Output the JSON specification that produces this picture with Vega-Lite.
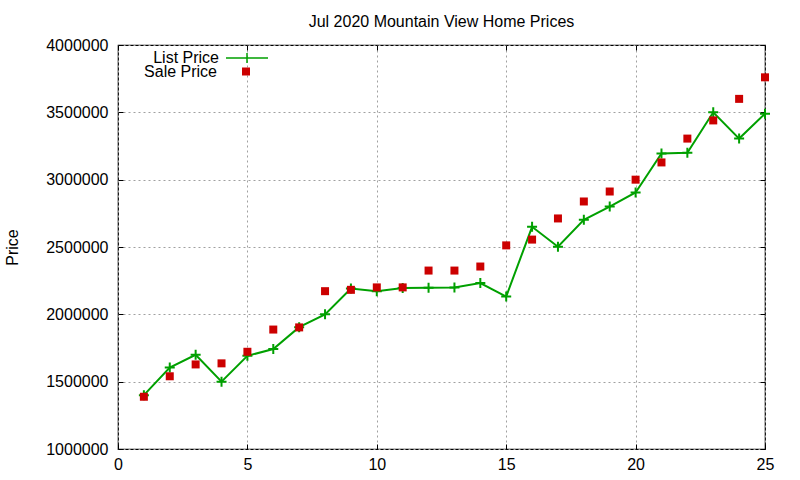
{
  "$schema": "https://vega.github.io/schema/vega-lite/v6.json",
  "autosize": "none",
  "width": 647,
  "height": 404,
  "padding": {"left": 118, "top": 45, "right": 35, "bottom": 31},
  "background": "white",
  "title": {
    "text": "Jul 2020 Mountain View Home Prices",
    "font": "Liberation Sans",
    "fontSize": 16,
    "fontWeight": "normal",
    "color": "#000",
    "anchor": "middle",
    "offset": 6
  },
  "data": {
    "values": [
      {"n": 1, "list": 1400000, "sale": 1388000},
      {"n": 2, "list": 1605000, "sale": 1540000},
      {"n": 3, "list": 1700000, "sale": 1628000},
      {"n": 4, "list": 1500000, "sale": 1636000},
      {"n": 5, "list": 1692000, "sale": 1722000},
      {"n": 6, "list": 1742000, "sale": 1887000},
      {"n": 7, "list": 1905000, "sale": 1903000},
      {"n": 8, "list": 2000000, "sale": 2172000},
      {"n": 9, "list": 2192000, "sale": 2182000},
      {"n": 10, "list": 2172000, "sale": 2200000},
      {"n": 11, "list": 2195000, "sale": 2200000},
      {"n": 12, "list": 2197000, "sale": 2325000},
      {"n": 13, "list": 2200000, "sale": 2325000},
      {"n": 14, "list": 2232000, "sale": 2355000},
      {"n": 15, "list": 2132000, "sale": 2512000},
      {"n": 16, "list": 2650000, "sale": 2555000},
      {"n": 17, "list": 2502000, "sale": 2712000},
      {"n": 18, "list": 2702000, "sale": 2838000},
      {"n": 19, "list": 2800000, "sale": 2912000},
      {"n": 20, "list": 2905000, "sale": 3000000},
      {"n": 21, "list": 3195000, "sale": 3128000},
      {"n": 22, "list": 3200000, "sale": 3305000},
      {"n": 23, "list": 3500000, "sale": 3440000},
      {"n": 24, "list": 3305000, "sale": 3600000},
      {"n": 25, "list": 3490000, "sale": 3760000}
    ]
  },
  "layer": [
    {
      "mark": {
        "type": "line",
        "strokeWidth": 2,
        "point": {
          "shape": "M-1,0H1M0,-1V1",
          "filled": false,
          "size": 100,
          "strokeWidth": 2,
          "opacity": 1
        }
      },
      "encoding": {
        "x": {
          "field": "n",
          "type": "quantitative",
          "scale": {"domain": [0, 25], "nice": false},
          "axis": {"values": [0, 5, 10, 15, 20, 25], "title": null, "labelPadding": 12}
        },
        "y": {
          "field": "list",
          "type": "quantitative",
          "scale": {"domain": [1000000, 4000000], "nice": false, "zero": false},
          "axis": {
            "values": [1000000, 1500000, 2000000, 2500000, 3000000, 3500000, 4000000],
            "format": "d",
            "title": "Price",
            "titlePadding": 25,
            "labelPadding": 15
          }
        },
        "color": {
          "datum": "List Price",
          "scale": {"domain": ["List Price"], "range": ["#00a000"]},
          "legend": {
            "title": null,
            "orient": "none",
            "legendX": 27,
            "legendY": -9,
            "padding": 0,
            "symbolType": "M-1,0H1M0,-0.24V0.24",
            "symbolSize": 1764,
            "symbolStrokeWidth": 1.5,
            "symbolOffset": 80,
            "labelAlign": "right",
            "labelOffset": -50,
            "labelFont": "Liberation Sans",
            "labelFontSize": 16,
            "labelColor": "#000",
            "labelLimit": 300
          }
        }
      }
    },
    {
      "mark": {"type": "point", "shape": "square", "filled": true, "size": 64, "opacity": 1},
      "encoding": {
        "x": {
          "field": "n",
          "type": "quantitative",
          "axis": {"orient": "top", "values": [0, 5, 10, 15, 20, 25], "labels": false, "grid": false, "title": null}
        },
        "y": {
          "field": "sale",
          "type": "quantitative",
          "axis": {
            "orient": "right",
            "values": [1000000, 1500000, 2000000, 2500000, 3000000, 3500000, 4000000],
            "labels": false,
            "grid": false,
            "title": null
          }
        },
        "color": {
          "datum": "Sale Price",
          "scale": {"domain": ["Sale Price"], "range": ["#cc0000"]},
          "legend": {
            "title": null,
            "orient": "none",
            "legendX": 44,
            "legendY": 18.5,
            "padding": 0,
            "symbolType": "square",
            "symbolSize": 64,
            "symbolOffset": 76,
            "symbolStrokeWidth": 0,
            "symbolOpacity": 1,
            "labelAlign": "right",
            "labelOffset": -37,
            "labelFont": "Liberation Sans",
            "labelFontSize": 16,
            "labelColor": "#000",
            "labelLimit": 300
          }
        }
      }
    }
  ],
  "resolve": {
    "scale": {"color": "independent"},
    "axis": {"x": "independent", "y": "independent"}
  },
  "config": {
    "view": {"stroke": "#000", "strokeWidth": 1.2},
    "axis": {
      "domain": false,
      "grid": true,
      "gridColor": "#a0a0a0",
      "gridDash": [2, 3],
      "gridWidth": 1,
      "gridOpacity": 1,
      "ticks": true,
      "tickSize": -5,
      "tickColor": "#000",
      "tickWidth": 1,
      "labelFlush": false,
      "labelFont": "Liberation Sans",
      "labelFontSize": 16,
      "labelColor": "#000",
      "titleFont": "Liberation Sans",
      "titleFontSize": 16,
      "titleFontWeight": "normal",
      "titleColor": "#000"
    }
  }
}
